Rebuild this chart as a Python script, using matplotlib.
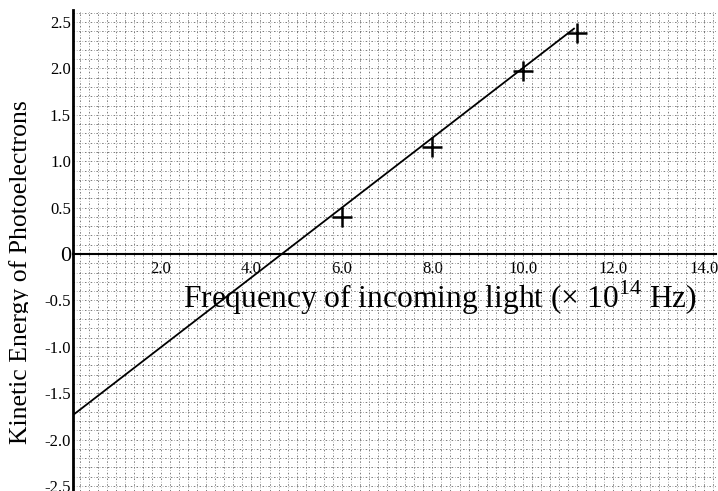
import matplotlib
matplotlib.use("Agg")
import matplotlib.pyplot as plt
from matplotlib.ticker import MultipleLocator
from matplotlib.transforms import Bbox

plt.rcParams["font.family"] = ["Liberation Serif", "DejaVu Serif"]
plt.rcParams["mathtext.fontset"] = "custom"
plt.rcParams["mathtext.rm"] = "Liberation Serif"

# measured points: frequency (x 10^14 Hz) vs kinetic energy
freq = [6.0, 8.0, 10.0, 11.2]
energy = [0.40, 1.15, 1.97, 2.38]

# hand-drawn best-fit line
fit_slope = 0.376
fit_intercept = -1.756
fit_x = [0.0, 11.13]

xtick_vals = [2.0, 4.0, 6.0, 8.0, 10.0, 12.0, 14.0]
xtick_labels = ["2.0", "4.0", "6.0", "8.0", "10.0", "12.0", "14.0"]
ytick_vals = [-2.5, -2.0, -1.5, -1.0, -0.5, 0.0, 0.5, 1.0, 1.5, 2.0, 2.5]
ytick_labels = ["-2.5", "-2.0", "-1.5", "-1.0", "-0.5", "0",
                "0.5", "1.0", "1.5", "2.0", "2.5"]

W, H = 718, 491
fig = plt.figure(figsize=(W / 100, H / 100), dpi=100)
ax = fig.add_axes([73 / W, 0, (716 - 73) / W, (H - 10) / H])

ax.set_xlim(0.055, 14.27)
ax.set_ylim(-2.554, 2.63)

# graph-paper grid
ax.xaxis.set_minor_locator(MultipleLocator(0.2))
ax.yaxis.set_minor_locator(MultipleLocator(0.1))
ax.grid(which="both", color="0.35", linewidth=0.55,
        linestyle=(0, (2.0, 2.4, 0.7, 2.4)))
ax.set_axisbelow(True)

ax.plot(fit_x, [fit_slope * x + fit_intercept for x in fit_x],
        color="black", linewidth=1.3)
ax.plot(freq, energy, linestyle="none", marker="+", markersize=15,
        markeredgewidth=1.8, color="black")

for side in ("top", "right"):
    ax.spines[side].set_visible(False)
ax.spines["bottom"].set_position(("data", 0))
ax.spines["bottom"].set_linewidth(1.5)
ax.spines["left"].set_linewidth(2.0)

ax.set_xticks(xtick_vals, xtick_labels)
ax.set_yticks(ytick_vals, ytick_labels)
ax.tick_params(which="both", length=0)
ax.tick_params(axis="x", labelsize=12, pad=5)
ax.tick_params(axis="y", labelsize=12, pad=1.5)
for val, lab in zip(ytick_vals, ax.get_yticklabels()):
    if val == 0.0:
        lab.set_fontsize(16)

ax.text(2.49, -0.58, r"Frequency of incoming light ($\times$ 10$^{14}$ Hz)",
        fontsize=22.7, ha="left", va="baseline")

# y label; descenders are trimmed at the left margin
ylab = fig.text(27 / W, 1 - 272 / H, "Kinetic Energy of Photoelectrons",
                rotation=90, rotation_mode="anchor",
                ha="center", va="baseline", fontsize=18.5)
ylab.set_clip_box(Bbox.from_extents(0, 0, 28, H))
ylab.set_clip_on(True)

fig.savefig("out.png", dpi=100, facecolor="white")
